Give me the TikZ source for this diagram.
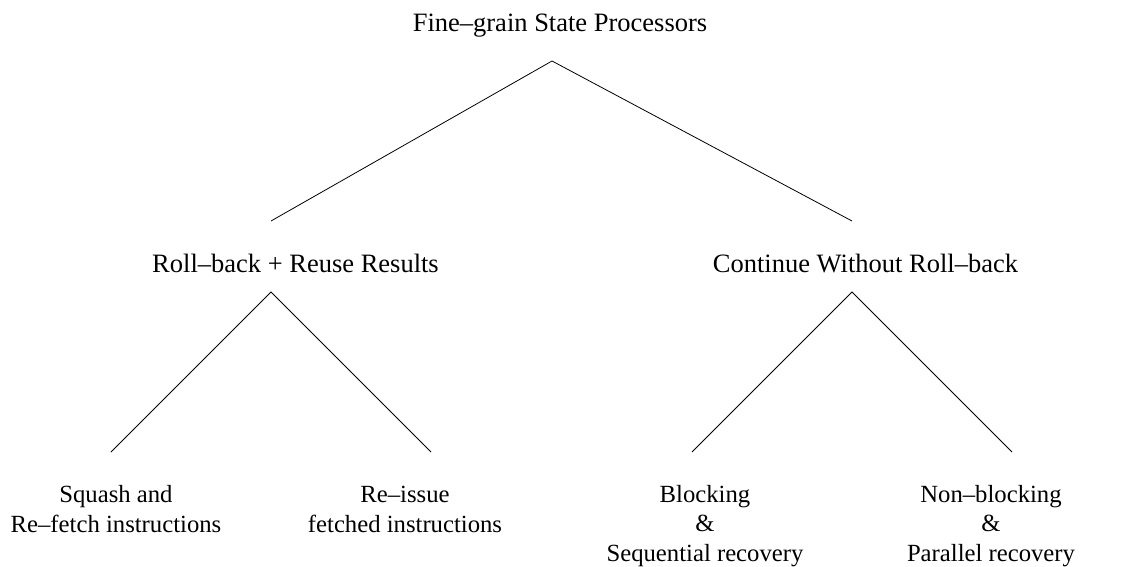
\documentclass[tikz,border=0pt]{standalone}
\usepackage{fontspec}
\setmainfont{Liberation Serif}
\begin{document}
\begin{tikzpicture}[x=1pt,y=-1pt,
  upper/.style={inner sep=0pt,anchor=base,font=\fontsize{26.5}{31}\selectfont},
  leaf/.style={inner sep=0pt,anchor=base,align=center,font=\fontsize{24.7}{29.5}\selectfont},
  branch/.style={line width=0.8pt,black}]
\useasboundingbox (0,0) rectangle (1122,567);

% category labels (multi-line nodes sit on the baseline of their last line)
\node[upper] (root)  at (560,32)  {Fine–grain State Processors};
\node[upper] (reuse) at (295.5,272) {Roll–back + Reuse Results};
\node[upper] (cont)  at (865.5,272) {Continue Without Roll–back};

\node[leaf] (squash)   at (116,532) {Squash and\\Re–fetch instructions};
\node[leaf] (reissue)  at (405,532) {Re–issue\\fetched instructions};
\node[leaf] (blocking) at (705,561) {Blocking\\\&\\Sequential recovery};
\node[leaf] (nonblock) at (991,561) {Non–blocking\\\&\\Parallel recovery};

% branch end points
\coordinate (rootTip)  at (552,61);
\coordinate (reuseIn)  at (271,221);
\coordinate (contIn)   at (852,221);
\coordinate (reuseTip) at (271,292);
\coordinate (contTip)  at (852,292);
\coordinate (squashIn)   at (111,452);
\coordinate (reissueIn)  at (431,452);
\coordinate (blockingIn) at (692,452);
\coordinate (nonblockIn) at (1012,452);

\draw[branch] (reuseIn) -- (rootTip) -- (contIn);
\draw[branch] (squashIn) -- (reuseTip) -- (reissueIn);
\draw[branch] (blockingIn) -- (contTip) -- (nonblockIn);
\end{tikzpicture}
\end{document}
